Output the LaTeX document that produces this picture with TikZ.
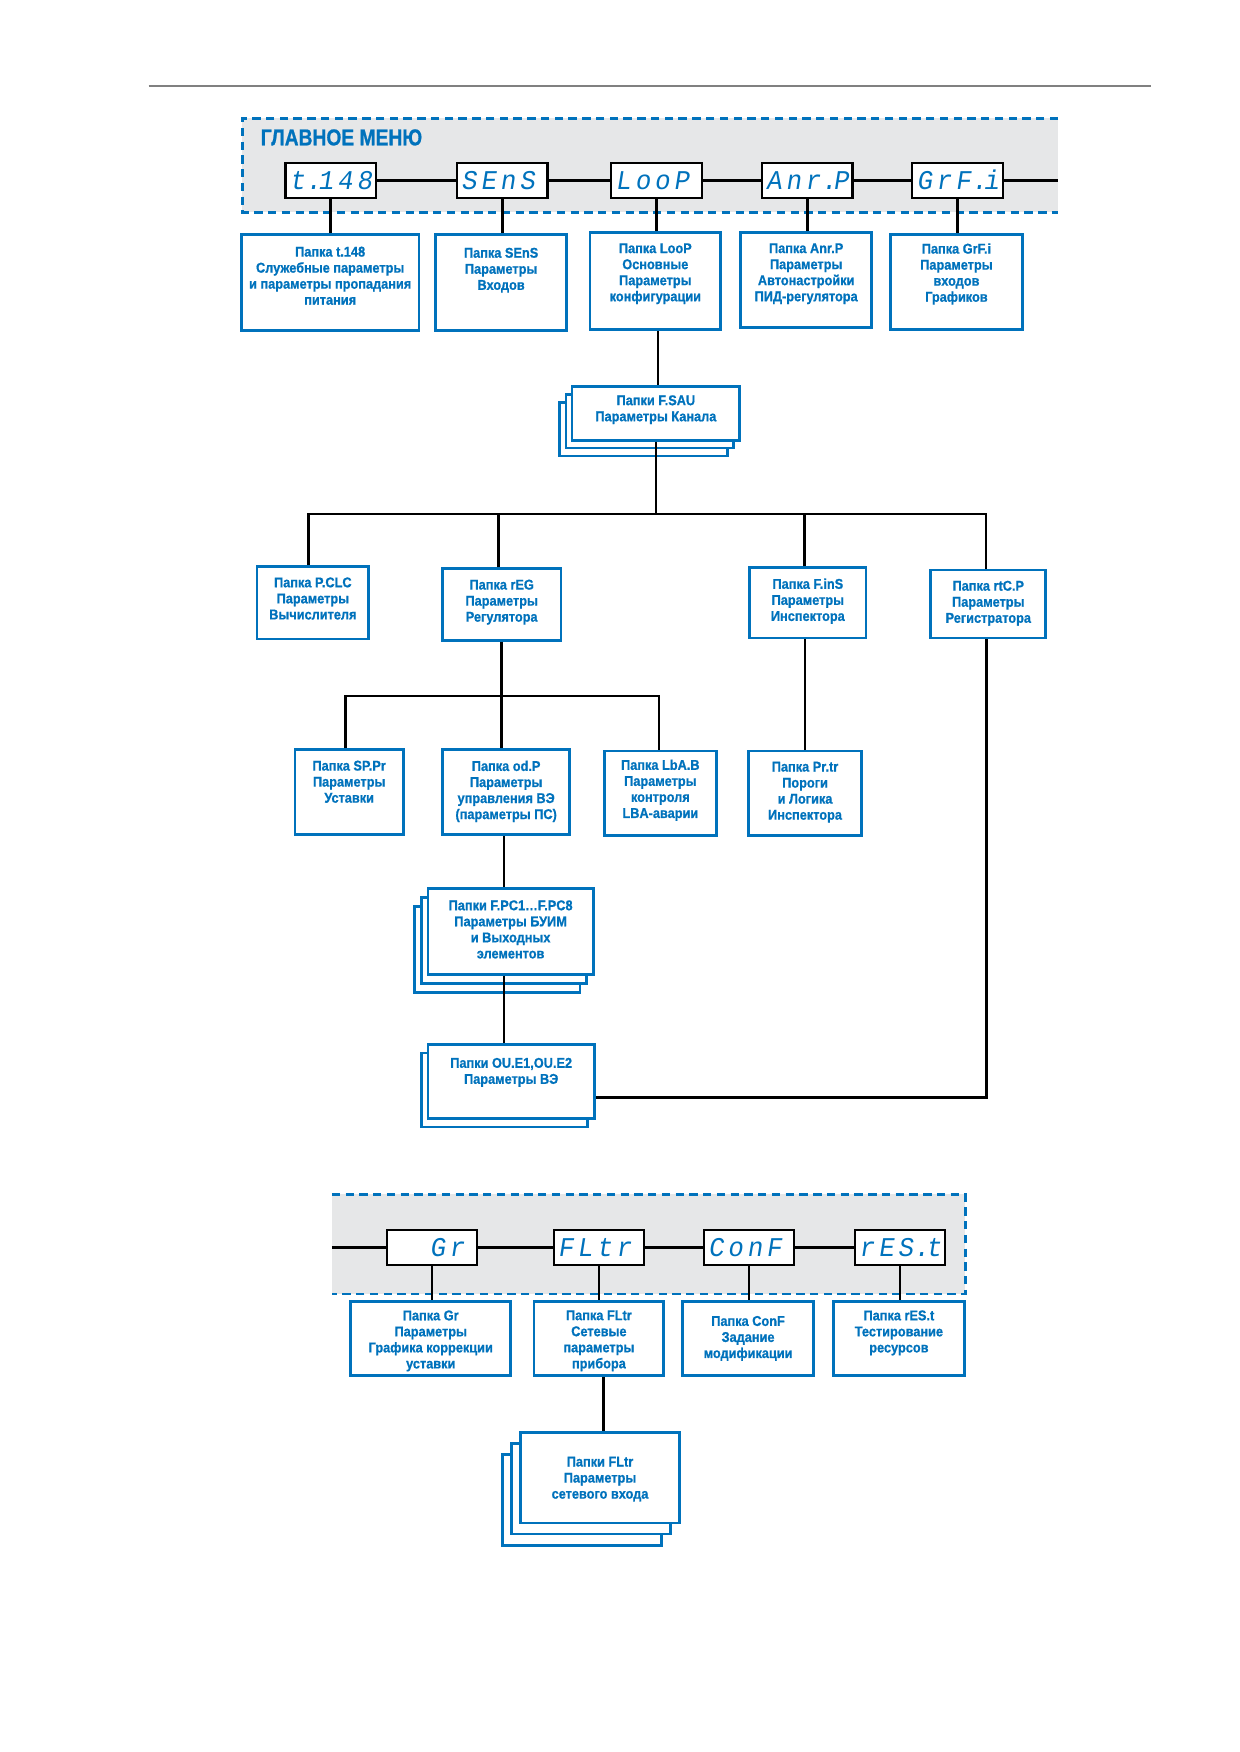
\documentclass[tikz,border=0pt]{standalone}
\usepackage{fontspec}
\setmainfont{Liberation Sans}[FakeStretch=0.9,BoldFeatures={FakeBold=0.8}]
\newfontfamily\titlefont{Liberation Sans}[FakeStretch=0.84,BoldFeatures={FakeBold=0.8}]
\newfontfamily\segfont{Liberation Mono}[FakeSlant=0.16,FakeStretch=0.95]
\usetikzlibrary{fit,calc}
\definecolor{owblue}{RGB}{0,114,188}
\definecolor{menugray}{RGB}{230,231,232}
\definecolor{hdrgray}{RGB}{128,128,128}
\tikzset{
 conn/.style={draw=black, line width=1.2pt},
 fbox/.style={draw=owblue, line width=1.3pt, fill=white, inner sep=0pt},
 ftext/.style={text=owblue, font=\bfseries\fontsize{6.8}{7.7}\selectfont, align=center, inner sep=0pt},
 disp/.style={draw=black, line width=1pt, fill=white, minimum width=43.4pt, minimum height=16.6pt, inner sep=0pt, text=owblue, font=\segfont\fontsize{13}{13}\selectfont, text height=8.8pt, text depth=0pt},
 menubox/.style={draw=owblue, line width=1.2pt, dash pattern=on 4pt off 2.6pt},
 menutitle/.style={text=owblue, font=\titlefont\bfseries\fontsize{11}{12}\selectfont, inner sep=0pt},
 hdr/.style={draw=hdrgray, line width=1pt}
}
\newcommand\segc[1]{\makebox[9.3pt][l]{#1}}
\newcommand\segd{\makebox[4.2pt][c]{.}}
\newcommand\dtext[1]{\hbox to 43.4pt{\hskip2.0pt#1\hss}}
\newcommand\fold[7]{%
  \node[fbox, fit={(#2,#3) (#4,#5)}] (#1) {};
  \node[ftext, anchor=north] (#1t) at ({(#2+#4)/2},{#6-4.6}) {#7};}
\begin{document}
\begin{tikzpicture}[x=0.53626pt,y=-0.53626pt]
\useasboundingbox (0,0) rectangle (1109,1568);
\fill[white] (0,0) rectangle (1109,1568);
\draw[hdr] (133,77) -- (1030,77);
% ---------- main menu ----------
\fill[menugray] (217,106) rectangle (947,190);
\draw[menubox] (947,106) -- (217,106) -- (217,190) -- (947,190);
\node[menutitle, anchor=west] (title) at (233,123) {ГЛАВНОЕ МЕНЮ};
\node[disp] (d1) at (296,161.5) {\dtext{\segc{t}\segd\segc{1}\segc{4}\segc{8}}};
\node[disp] (d2) at (449.5,161.5) {\dtext{\segc{S}\segc{E}\segc{n}\segc{S}}};
\node[disp] (d3) at (587.5,161.5) {\dtext{\segc{L}\segc{o}\segc{o}\segc{P}}};
\node[disp] (d4) at (722.5,161.5) {\dtext{\segc{A}\segc{n}\segc{r}\segd\segc{P}}};
\node[disp] (d5) at (857,161.5) {\dtext{\segc{G}\segc{r}\segc{F}\segd\segc{i}}};
\coordinate (mEnd) at (947,161.5);
\draw[conn] (d1.east) -- (d2.west);
\draw[conn] (d2.east) -- (d3.west);
\draw[conn] (d3.east) -- (d4.west);
\draw[conn] (d4.east) -- (d5.west);
\draw[conn] (d5.east) -- (mEnd);
% ---------- row 1 ----------
\fold{f1}{216}{210}{375}{296}{225}{Папка t.148\\Служебные параметры\\и параметры пропадания\\питания}
\fold{f2}{390}{210}{507}{296}{226}{Папка SEnS\\Параметры\\Входов}
\fold{f3}{528}{208}{645}{295}{222}{Папка LooP\\Основные\\Параметры\\конфигурации}
\fold{f4}{663}{208}{780}{293}{222}{Папка Anr.P\\Параметры\\Автонастройки\\ПИД-регулятора}
\fold{f5}{797}{210}{915}{295}{222}{Папка GrF.i\\Параметры\\входов\\Графиков}
\foreach \i in {1,...,5} \draw[conn] (d\i.south) -- (d\i.south |- f\i.north);
% ---------- F.SAU ----------
\node[fbox, fit={(501,360) (651,408)}] (fsau2) {};
\node[fbox, fit={(506.5,353) (656.5,401)}] (fsau1) {};
\fold{fsau}{512}{346}{662}{394}{358}{Папки F.SAU\\Параметры Канала}
\coordinate (c1) at ($(f3.south)+(2.5,0)$);
\draw[conn] (c1) -- (c1 |- fsau.north);
% ---------- row 2 ----------
\fold{r2a}{230}{507}{330}{572}{521}{Папка P.CLC\\Параметры\\Вычислителя}
\fold{r2b}{396}{509}{502}{573}{523}{Папка rEG\\Параметры\\Регулятора}
\fold{r2c}{671}{508}{775}{571}{522}{Папка F.inS\\Параметры\\Инспектора}
\fold{r2d}{833}{510}{936}{571}{524}{Папка rtC.P\\Параметры\\Регистратора}
\coordinate (bus2) at (587,460);
\draw[conn] (fsau.south) -- (bus2);
\coordinate (p2a) at ($(r2a.north)+(-4,0)$);
\coordinate (p2b) at ($(r2b.north)+(-3,0)$);
\coordinate (p2c) at ($(r2c.north)+(-3,0)$);
\coordinate (p2d) at ($(r2d.north)+(-2,0)$);
\draw[conn] (p2a) |- (bus2) -| (p2d);
\draw[conn] (p2b) -- (p2b |- bus2);
\draw[conn] (p2c) -- (p2c |- bus2);
% ---------- row 3 ----------
\fold{r3a}{264}{671}{361}{747}{685}{Папка SP.Pr\\Параметры\\Уставки}
\fold{r3b}{396}{671}{510}{747}{685}{Папка od.P\\Параметры\\управления ВЭ\\(параметры ПС)}
\fold{r3c}{541}{672}{641}{748}{684}{Папка LbA.B\\Параметры\\контроля\\LBA-аварии}
\fold{r3d}{670}{672}{771}{748}{686}{Папка Pr.tr\\Пороги\\и Логика\\Инспектора}
\coordinate (y623) at (0,623);
\coordinate (bus3) at (r2b.south |- y623);
\draw[conn] (r2b.south) -- (r2b.south |- r3b.north);
\coordinate (p3a) at ($(r3a.north)+(-3.5,0)$);
\coordinate (p3c) at ($(r3c.north)+(-1,0)$);
\draw[conn] (p3a) |- (bus3) -| (p3c);
\draw[conn] (r3d.north) -- (r3d.north |- r2c.south);
% ---------- F.PC ----------
\node[fbox, fit={(371,811) (519,888)}] (fpc2) {};
\node[fbox, fit={(377,803) (525,880)}] (fpc1) {};
\fold{fpc}{383}{795}{531}{872}{810}{Папки F.PC1…F.PC8\\Параметры БУИМ\\и Выходных\\элементов}
% ---------- OU.E ----------
\node[fbox, fit={(377,942.5) (526,1008.5)}] (oue1) {};
\fold{oue}{383}{935}{532}{1001}{951}{Папки OU.E1,OU.E2\\Параметры ВЭ}
\coordinate (c5) at ($(r3b.south)+(-2,0)$);
\draw[conn] (c5) -- (c5 |- fpc.north);
\draw[conn] (c5 |- fpc.south) -- (c5 |- oue.north);
\coordinate (c6) at ($(oue.east)+(0,14)$);
\draw[conn] (c6) -| ($(r2d.south)+(-1.5,0)$);
% ---------- bottom menu ----------
\fill[menugray] (297,1069) rectangle (864,1158);
\draw[menubox] (297,1069) -- (864,1069) -- (864,1158) -- (297,1158);
\node[disp] (e1) at (386.5,1116.5) {\dtext{\segc{}\segc{}\segc{G}\segc{r}}};
\node[disp] (e2) at (536,1116.5) {\dtext{\segc{F}\segc{L}\segc{t}\segc{r}}};
\node[disp] (e3) at (670.5,1116.5) {\dtext{\segc{C}\segc{o}\segc{n}\segc{F}}};
\node[disp] (e4) at (805.5,1116.5) {\dtext{\segc{r}\segc{E}\segc{S}\segd\segc{t}}};
\coordinate (mStart) at (297,1116.5);
\draw[conn] (mStart) -- (e1.west);
\draw[conn] (e1.east) -- (e2.west);
\draw[conn] (e2.east) -- (e3.west);
\draw[conn] (e3.east) -- (e4.west);
\fold{g1}{314}{1165}{457}{1231}{1177}{Папка Gr\\Параметры\\Графика коррекции\\уставки}
\fold{g2}{478}{1165}{594}{1231}{1177}{Папка FLtr\\Сетевые\\параметры\\прибора}
\fold{g3}{611}{1165}{728}{1231}{1182}{Папка ConF\\Задание\\модификации}
\fold{g4}{746}{1165}{863}{1231}{1177}{Папка rES.t\\Тестирование\\ресурсов}
\foreach \i in {1,...,4} \draw[conn] (e\i.south) -- (e\i.south |- g\i.north);
% ---------- FLtr stack ----------
\node[fbox, fit={(450,1302) (592,1383)}] (fl2) {};
\node[fbox, fit={(458,1292) (600,1373)}] (fl1) {};
\fold{fl}{466}{1282}{608}{1363}{1308}{Папки FLtr\\Параметры\\сетевого входа}
\coordinate (c7) at ($(g2.south)+(4,0)$);
\draw[conn] (c7) -- (c7 |- fl.north);
\end{tikzpicture}
\end{document}
